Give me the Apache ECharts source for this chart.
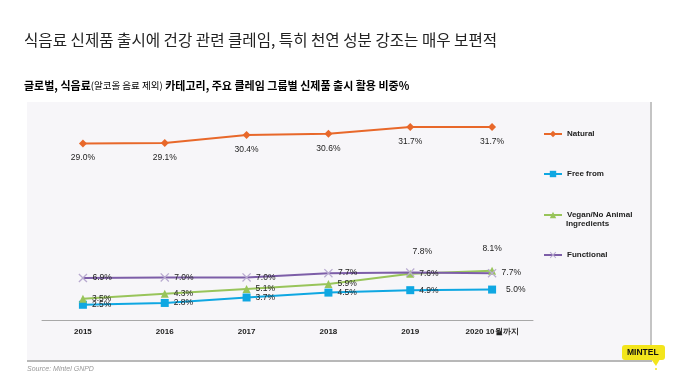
<!DOCTYPE html>
<html><head><meta charset="utf-8">
<script src="https://cdn.jsdelivr.net/npm/echarts@6/dist/echarts.min.js"></script>
<style>html,body{margin:0;padding:0;background:#fff}#c{width:680px;height:381px}</style>
</head><body><div id="c"></div>
<script>
const categories = ['2015', '2016', '2017', '2018', '2019', '2020 10월까지'];
const natural = [29.0, 29.1, 30.4, 30.6, 31.7, 31.7];
const freeFrom = [2.5, 2.8, 3.7, 4.5, 4.9, 5.0];
const vegan = [3.5, 4.3, 5.1, 5.9, 7.6, 8.1];
const functional = [6.9, 7.0, 7.0, 7.7, 7.8, 7.7];
const seriesNames = ['Natural', 'Free from', 'Vegan/No Animal Ingredients', 'Functional'];

const FONT = '"Liberation Sans", Arial, sans-serif';
const KFONT = '"Noto Sans CJK KR", "Noto Sans", sans-serif';
const C = { nat: '#e8682a', free: '#0fa7e2', veg: '#98c45a', fun: '#7d5ea8' };
const xPath = 'path://M0,1L1,0L5,4L9,0L10,1L6,5L10,9L9,10L5,6L1,10L0,9L4,5Z';

function withLabels(values, base, overrides) {
  return values.map((v, i) => overrides[i] ? { value: v, label: Object.assign({}, base, overrides[i]) } : v);
}
const lbl = { show: true, fontSize: 8.5, fontFamily: FONT, color: '#222', formatter: p => p.value.toFixed(1) + '%' };

const chart = echarts.init(document.getElementById('c'), null, { renderer: 'canvas' });
const legendBase = { orient: 'vertical', left: 543, padding: 0, itemWidth: 18, itemHeight: 8, itemGap: 0,
  textStyle: { fontSize: 8, fontWeight: 'bold', fontFamily: FONT, color: '#222' } };

chart.setOption({
  animation: false,
  backgroundColor: '#fff',
  graphic: [
    { type: 'rect', z: -10, shape: { x: 27, y: 102, width: 624, height: 259 }, style: { fill: '#f7f6f9' } },
    { type: 'line', z: -9, shape: { x1: 651, y1: 102, x2: 651, y2: 362 }, style: { stroke: '#c4c4c4', lineWidth: 2 } },
    { type: 'line', z: -9, shape: { x1: 27, y1: 361, x2: 652, y2: 361 }, style: { stroke: '#b8b8b8', lineWidth: 2 } },
    { type: 'text', left: 24, top: 32, style: { text: '식음료 신제품 출시에 건강 관련 클레임, 특히 천연 성분 강조는 매우 보편적', font: '15.6px ' + KFONT, fill: '#222' } },
    { type: 'text', left: 24, top: 80, style: {
      text: '{b|글로벌, 식음료}{s|(알코올 음료 제외)}{b| 카테고리, 주요 클레임 그룹별 신제품 출시 활용 비중%}',
      rich: { b: { fontSize: 11, fontWeight: 'bold', fontFamily: KFONT, color: '#222' },
              s: { fontSize: 9.5, fontFamily: KFONT, color: '#444' } } } },
    { type: 'text', left: 566, top: 220, style: { text: 'Ingredients', font: 'bold 8px ' + FONT, fill: '#222' } },
    { type: 'text', left: 27, top: 366, style: { text: 'Source: Mintel GNPD', font: 'italic 7px ' + FONT, fill: '#999' } },
    { type: 'rect', shape: { x: 622, y: 345, width: 43, height: 15, r: 3 }, style: { fill: '#f3e51c' } },
    { type: 'polygon', shape: { points: [[651, 359], [660, 359], [656, 366]] }, style: { fill: '#f3e51c' } },
    { type: 'circle', shape: { cx: 656, cy: 369, r: 1 }, style: { fill: '#f3e51c' } },
    { type: 'text', left: 627, top: 348, style: { text: 'MINTEL', font: 'bold 8.5px ' + FONT, fill: '#111' } }
  ],
  legend: [
    Object.assign({ top: 130, data: [seriesNames[0]] }, legendBase),
    Object.assign({ top: 170, data: [seriesNames[1]] }, legendBase),
    Object.assign({ top: 211, data: [seriesNames[2]], formatter: () => 'Vegan/No Animal' }, legendBase),
    Object.assign({ top: 251, data: [seriesNames[3]] }, legendBase)
  ],
  grid: { left: 42, right: 147, top: 107, bottom: 61 },
  xAxis: {
    type: 'category', data: categories,
    axisLine: { lineStyle: { color: '#a8a8a8', width: 1 } },
    axisTick: { length: 4, lineStyle: { color: '#a8a8a8' } },
    axisLabel: { fontSize: 8, fontWeight: 'bold', fontFamily: FONT, color: '#222', margin: 8 }
  },
  yAxis: { type: 'value', min: 0, max: 35, show: false, splitLine: { show: false } },
  series: [
    { name: seriesNames[0], type: 'line', color: C.nat, symbol: 'diamond', symbolSize: 8,
      lineStyle: { width: 2, color: C.nat }, itemStyle: { color: C.nat },
      label: Object.assign({ position: 'bottom', distance: 6 }, lbl), data: natural },
    { name: seriesNames[1], type: 'line', color: C.free, symbol: 'rect', symbolSize: 8,
      lineStyle: { width: 2, color: C.free }, itemStyle: { color: C.free },
      label: Object.assign({ position: 'right', distance: 5 }, lbl),
      data: withLabels(freeFrom, Object.assign({ position: 'right' }, lbl), { 5: { distance: 10 } }) },
    { name: seriesNames[2], type: 'line', color: C.veg, symbol: 'triangle', symbolSize: 8,
      lineStyle: { width: 2, color: C.veg }, itemStyle: { color: C.veg },
      label: Object.assign({ position: 'right', distance: 5 }, lbl),
      data: withLabels(vegan, lbl, { 5: { position: 'top', distance: 14 } }) },
    { name: seriesNames[3], type: 'line', color: C.fun, symbol: xPath, symbolSize: 9,
      lineStyle: { width: 2, color: C.fun }, itemStyle: { color: '#b9abd0' },
      label: Object.assign({ position: 'right', distance: 5 }, lbl),
      data: withLabels(functional, lbl, { 4: { position: 'top', distance: 12, offset: [12, 0] } }) }
  ]
});
</script></body></html>
